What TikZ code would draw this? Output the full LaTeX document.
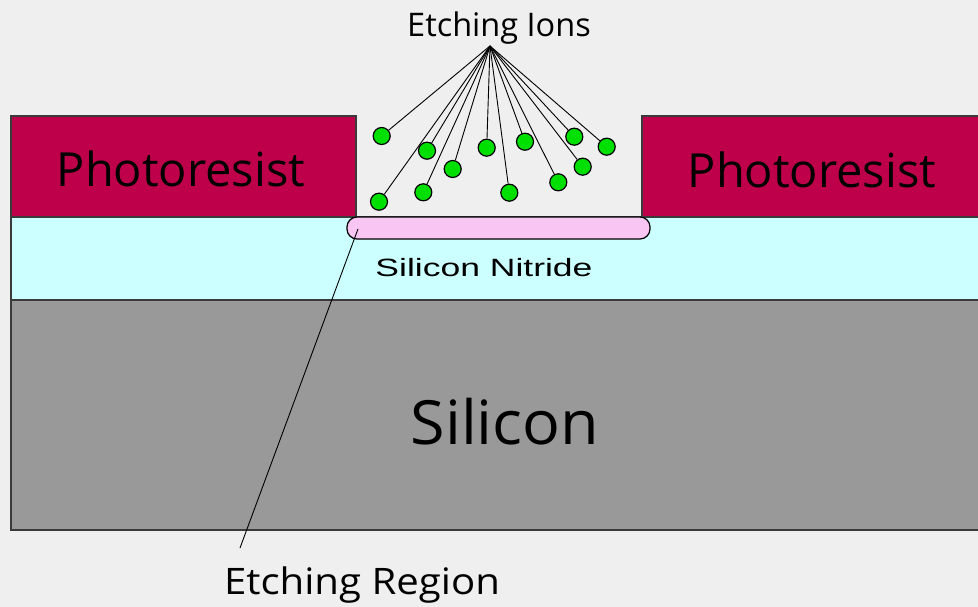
\documentclass[tikz,border=0pt]{standalone}
\usepackage{graphicx}
\usepackage{fontspec}
\setmainfont{Open Sans}
\newfontfamily\labelfont{Liberation Sans}
\definecolor{bgc}{HTML}{EFEFEF}
\definecolor{resist}{HTML}{BE004B}
\definecolor{nitride}{HTML}{CCFFFF}
\definecolor{silicon}{HTML}{999999}
\definecolor{etchzone}{HTML}{F9C6F3}
\definecolor{ion}{HTML}{00E000}
\definecolor{edge}{HTML}{3A3A3A}
\tikzset{
  layer/.style={fill=#1, draw=edge, line width=1.4pt},
  ionball/.style={circle, fill=ion, draw=black, line width=1.2pt, minimum size=17pt, inner sep=0pt},
  leader/.style={draw=black, line width=0.9pt},
  caption/.style={anchor=base, inner sep=0pt},
}
\begin{document}
\begin{tikzpicture}[x=1pt, y=-1pt]
  \useasboundingbox (0,0) rectangle (978,607);
  \fill[bgc] (0,0) rectangle (978,607);
  % substrate stack
  \draw[layer=silicon] (11,300) rectangle (990,530);
  \draw[layer=nitride] (11,217) rectangle (990,300);
  \draw[layer=resist] (11,116) rectangle (356,217);
  \draw[layer=resist] (642,116) rectangle (990,217);
  % region being etched
  \node[draw=black, line width=1.2pt, fill=etchzone, rounded corners=10pt,
        minimum width=303pt, minimum height=22pt, inner sep=0pt] (zone) at (498.5,228) {};
  \coordinate (zonetip) at (358,229);
  % labels
  \node[caption, font=\fontsize{47}{52}\selectfont] (prL) at (181,187) {Photoresist};
  \node[caption, font=\fontsize{47}{52}\selectfont] (prR) at (812,188) {Photoresist};
  \node[caption, font=\labelfont\fontsize{25}{28}\selectfont] (sn) at (484,276)
       {\scalebox{1.42}[1]{Silicon Nitride}};
  \node[caption, font=\fontsize{61}{66}\selectfont] (si) at (505,444)
       {\scalebox{1.03}[1]{Silicon}};
  \node[caption, font=\fontsize{32.5}{36}\selectfont] (ions) at (499,37) {Etching Ions};
  \node[caption, font=\fontsize{36.5}{40}\selectfont] (reg) at (362,594)
       {\scalebox{1.1}[1]{Etching Region}};
  \coordinate (apex) at (490,46);
  \coordinate (regtip) at (240,548);
  % ions
  \foreach \n/\px/\py in {1/381.7/136, 2/427/150.7, 3/452.7/169, 4/486.7/147.7,
      5/525/141.7, 6/574.3/136.7, 7/606.7/146.7, 8/582.7/166.7, 9/558.3/182.3,
      10/509.3/192.7, 11/423.3/192.3, 12/379/201.7} {
    \node[ionball] (ion\n) at (\px,\py) {};
    \draw[leader] (apex) -- (ion\n);
  }
  \draw[leader] (zonetip) -- (regtip);
\end{tikzpicture}
\end{document}
